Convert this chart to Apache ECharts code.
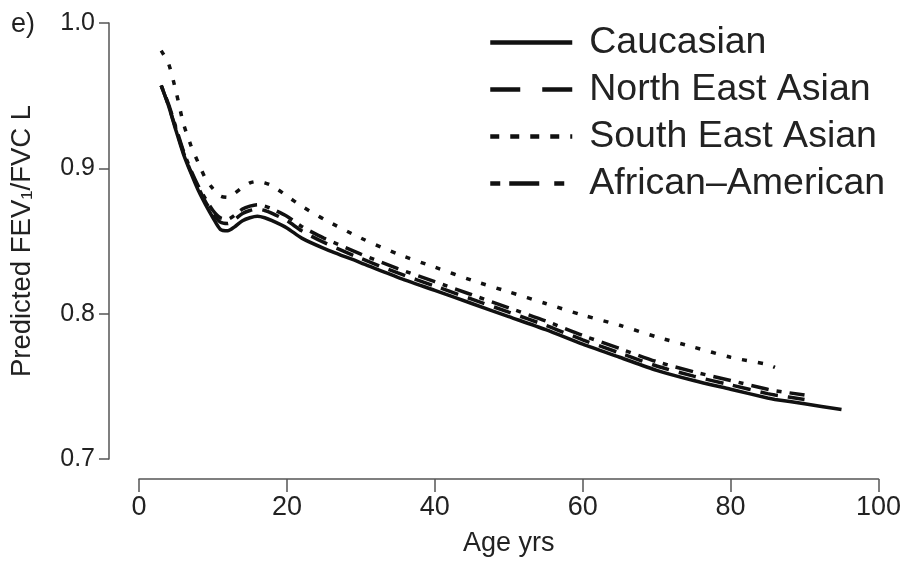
<!DOCTYPE html>
<html>
<head>
<meta charset="utf-8">
<script src="https://cdn.jsdelivr.net/npm/echarts@6/dist/echarts.min.js"></script>
<style>
  html, body { margin: 0; padding: 0; background: #fff; }
  #chart { width: 904px; height: 562px; }
</style>
</head>
<body>
<div id="chart"></div>
<script>
// Age grid (years) shared by all curves; each curve uses the first N ages.
const ages = [3,4,5,6,7,8,9,10,11,12,13,14,15,16,17,18,20,22,25,30,35,40,45,50,55,60,65,70,75,80,85,86,90,95];

// Predicted FEV1/FVC by ethnic group
const caucasian = [0.957,0.943,0.926,0.910,0.897,0.885,0.875,0.866,0.858,0.857,0.860,0.864,0.866,0.867,0.866,0.864,
                   0.859,0.852,0.845,0.835,0.825,0.816,0.807,0.798,0.789,0.779,0.770,0.761,0.754,0.748,0.742,0.741,0.738,0.734];
const northEastAsian = [0.957,0.943,0.927,0.911,0.898,0.887,0.877,0.869,0.863,0.862,0.865,0.869,0.871,0.872,0.871,0.869,
                        0.864,0.857,0.849,0.838,0.828,0.819,0.810,0.801,0.792,0.782,0.773,0.764,0.757,0.751,0.745,0.744,0.741];
const southEastAsian = [0.981,0.972,0.953,0.931,0.916,0.904,0.893,0.886,0.881,0.880,0.883,0.887,0.890,0.891,0.890,0.888,
                        0.881,0.874,0.865,0.852,0.841,0.832,0.823,0.815,0.807,0.799,0.792,0.784,0.777,0.770,0.765,0.763];
const africanAmerican = [0.957,0.944,0.928,0.912,0.899,0.888,0.879,0.871,0.866,0.865,0.868,0.872,0.874,0.875,0.874,0.872,
                         0.867,0.860,0.852,0.841,0.831,0.822,0.813,0.804,0.795,0.785,0.776,0.767,0.760,0.754,0.748,0.747,0.744];

const seriesNames = ['Caucasian', 'North East Asian', 'South East Asian', 'African\u2013American'];
const xTicks = [0, 20, 40, 60, 80, 100];
const yTicks = [0.7, 0.8, 0.9, 1.0];

const FONT = '"Liberation Sans", Arial, Helvetica, sans-serif';
const INK = '#111';
const TEXT = '#222';
const AXIS = '#555';

function pairs(values) {
  return values.map((v, i) => [ages[i], v]);
}

// Dash patterns for the plotted curves and for the (larger) legend keys
const curveDash = ['solid', [18, 10], [5, 11], [5, 8, 18, 8]];
const keyDash   = ['solid', [30, 22], [9, 11], [10, 9, 30, 15]];
const curveData = [caucasian, northEastAsian, southEastAsian, africanAmerican];

const chart = echarts.init(document.getElementById('chart'), null, { renderer: 'canvas' });

chart.setOption({
  animation: false,
  backgroundColor: '#fff',
  title: {
    text: 'e)',
    left: 6,
    top: 6,
    textStyle: { fontFamily: FONT, fontSize: 27, fontWeight: 'normal', color: TEXT }
  },
  legend: {
    orient: 'vertical',
    left: 488,
    top: 23,
    padding: 0,
    itemWidth: 82,
    itemHeight: 14,
    itemGap: 8,
    textStyle: { fontFamily: FONT, fontSize: 37.5, color: TEXT, padding: [0, 0, 0, 12], lineHeight: 39 },
    data: seriesNames.map((n, i) => ({
      name: n,
      itemStyle: { opacity: 0 },
      lineStyle: { type: keyDash[i], width: 4.5, color: INK, cap: 'butt', opacity: 1 }
    }))
  },
  grid: { left: 137, right: 25, top: 23, bottom: 103, containLabel: false },
  xAxis: {
    type: 'value',
    min: 0,
    max: 100,
    interval: 20,
    offset: 20,
    name: 'Age yrs',
    nameLocation: 'middle',
    nameGap: 51,
    nameTextStyle: { fontFamily: FONT, fontSize: 27, color: TEXT },
    axisLine: { show: true, onZero: false, lineStyle: { color: AXIS, width: 1.5 } },
    axisTick: { show: true, length: 13, lineStyle: { color: AXIS, width: 1.5 } },
    axisLabel: {
      margin: 15,
      fontFamily: FONT, fontSize: 27, color: TEXT,
      formatter: v => (xTicks.includes(v) ? String(v) : '')
    },
    splitLine: { show: false }
  },
  yAxis: {
    type: 'value',
    min: 0.7,
    max: 1.0,
    interval: 0.1,
    offset: 30,
    name: 'Predicted FEV\u2081/FVC L',
    nameLocation: 'middle',
    nameGap: 73,
    nameRotate: 90,
    nameTextStyle: { fontFamily: FONT, fontSize: 27.5, color: TEXT },
    axisLine: { show: true, onZero: false, lineStyle: { color: AXIS, width: 1.5 } },
    axisTick: { show: true, length: 10, lineStyle: { color: AXIS, width: 1.5 } },
    axisLabel: {
      margin: 14,
      fontFamily: FONT, fontSize: 25, color: TEXT,
      formatter: v => {
        const t = yTicks.find(k => Math.abs(k - v) < 1e-9);
        return t === undefined ? '' : t.toFixed(1);
      }
    },
    splitLine: { show: false }
  },
  series: seriesNames.map((n, i) => ({
    name: n,
    type: 'line',
    data: pairs(curveData[i]),
    smooth: 0.25,
    symbol: 'none',
    z: 10 - i,
    lineStyle: { color: INK, width: 3.5, type: curveDash[i], cap: 'butt' },
    itemStyle: { color: INK }
  }))
});
</script>
</body>
</html>
